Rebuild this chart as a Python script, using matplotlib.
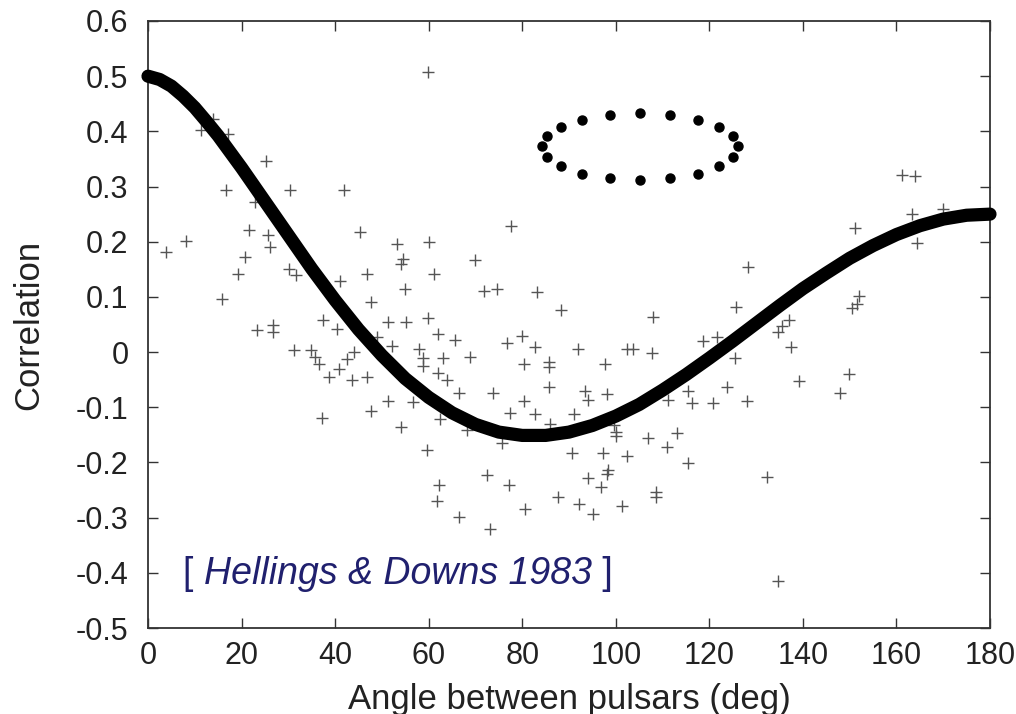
import matplotlib
matplotlib.use("Agg")
import matplotlib.pyplot as plt

# Hellings & Downs curve (denser where it bends near 0)
hd_angle = [0, 2.5, 5, 7.5, 10, 12.5, 15, 20, 25, 30, 35, 40, 45, 50, 55, 60, 65, 70,
            75, 80, 85, 90, 95, 100, 105, 110, 115, 120, 125, 130, 135, 140, 145,
            150, 155, 160, 165, 170, 175, 180]
hd_corr = [0.500, 0.494, 0.482, 0.464, 0.443, 0.418, 0.392, 0.334, 0.273, 0.212,
           0.151, 0.094, 0.041, -0.006, -0.048, -0.082, -0.110, -0.131, -0.145,
           -0.151, -0.151, -0.145, -0.133, -0.116, -0.095, -0.069, -0.041, -0.011,
           0.020, 0.052, 0.084, 0.115, 0.143, 0.170, 0.193, 0.213, 0.229, 0.241,
           0.248, 0.250]

# measured pulsar pair correlations (+ marks)
pair_angle = [
    3.8, 8.2, 11.4, 14.0, 17.0, 25.2, 16.6, 22.9, 30.4, 41.9, 21.6, 25.6, 26.0,
    20.8, 19.3, 30.1, 31.6, 41.1, 45.3, 15.9, 23.4, 26.8, 26.8, 37.4, 40.5, 31.2,
    34.8, 35.7, 36.6, 38.6, 40.8, 42.6, 44.1, 43.7, 37.1,
    53.3, 60.1, 77.5, 54.6, 54.0, 69.9, 46.9, 61.2, 54.9, 71.8, 74.7, 83.2, 47.6,
    51.2, 55.1, 59.9, 61.9, 65.6, 79.9, 76.8, 82.7, 49.0, 52.2, 57.9, 58.7, 58.7,
    63.1, 68.8, 80.4, 85.8, 85.8, 46.9, 61.9, 63.9, 85.8, 66.5, 73.8, 51.2, 56.6,
    80.4, 47.6, 77.4, 82.7, 62.4, 54.0, 68.1, 85.9, 75.7, 59.6, 72.4, 62.3, 77.2,
    87.7, 61.7, 80.6, 66.5, 73.1, 59.8,
    128.3, 88.2, 108.0, 125.8, 118.7, 121.6, 92.0, 102.5, 103.7, 107.7, 125.5,
    97.8, 93.4, 94.1, 98.1, 115.5, 111.2, 116.4, 120.8, 123.8, 128.0, 91.1, 99.6,
    100.0, 100.1, 106.9, 113.1, 110.9, 90.7, 97.2, 102.5, 115.5, 98.4, 98.1, 94.1,
    96.8, 108.7, 108.6, 92.2, 101.3, 95.2,
    161.2, 164.0, 169.9, 163.3, 151.1, 164.5, 152.1, 151.5, 150.6, 137.1, 135.5,
    134.7, 137.4, 139.2, 149.9, 147.9, 132.3, 134.7,
]
pair_corr = [
    0.181, 0.201, 0.402, 0.423, 0.396, 0.346, 0.294, 0.272, 0.294, 0.294, 0.221,
    0.213, 0.191, 0.173, 0.141, 0.150, 0.140, 0.129, 0.217, 0.096, 0.040, 0.050,
    0.037, 0.058, 0.042, 0.004, 0.003, -0.008, -0.022, -0.046, -0.030, -0.013,
    0.000, -0.051, -0.120,
    0.196, 0.200, 0.228, 0.168, 0.159, 0.167, 0.141, 0.141, 0.114, 0.111, 0.114,
    0.109, 0.090, 0.054, 0.054, 0.062, 0.033, 0.022, 0.030, 0.016, 0.010, 0.027,
    0.011, 0.005, -0.011, -0.025, -0.010, -0.008, -0.022, -0.018, -0.027, -0.045,
    -0.037, -0.050, -0.063, -0.074, -0.074, -0.088, -0.091, -0.088, -0.106,
    -0.111, -0.113, -0.122, -0.135, -0.141, -0.130, -0.164, -0.178, -0.222,
    -0.240, -0.240, -0.262, -0.270, -0.285, -0.298, -0.320, 0.507,
    0.155, 0.076, 0.064, 0.081, 0.020, 0.028, 0.005, 0.005, 0.005, -0.001,
    -0.010, -0.022, -0.071, -0.087, -0.076, -0.070, -0.087, -0.092, -0.092,
    -0.064, -0.089, -0.112, -0.132, -0.152, -0.145, -0.155, -0.147, -0.172,
    -0.182, -0.182, -0.188, -0.201, -0.213, -0.221, -0.228, -0.244, -0.253,
    -0.262, -0.276, -0.279, -0.294,
    0.321, 0.319, 0.260, 0.250, 0.224, 0.197, 0.101, 0.088, 0.079, 0.059, 0.047,
    0.037, 0.010, -0.052, -0.039, -0.075, -0.227, -0.414,
]

# dotted ring drawn on the chart
ring_x = [126.1, 125.1, 122.1, 117.6, 111.6, 105.2, 98.8, 92.8, 88.3, 85.3,
          84.2, 85.3, 88.3, 92.8, 98.8, 105.2, 111.6, 117.6, 122.1, 125.1]
ring_y = [0.373, 0.391, 0.408, 0.421, 0.430, 0.433, 0.430, 0.421, 0.408, 0.391,
          0.373, 0.353, 0.337, 0.323, 0.315, 0.312, 0.315, 0.323, 0.337, 0.353]

x_ticks = [0, 20, 40, 60, 80, 100, 120, 140, 160, 180]
y_ticks = [-0.5, -0.4, -0.3, -0.2, -0.1, 0.0, 0.1, 0.2, 0.3, 0.4, 0.5, 0.6]
y_labels = ["-0.5", "-0.4", "-0.3", "-0.2", "-0.1", "0", "0.1", "0.2", "0.3",
            "0.4", "0.5", "0.6"]

plt.rcParams["font.family"] = ["Liberation Sans", "DejaVu Sans"]
plt.rcParams["axes.unicode_minus"] = False

fig = plt.figure(figsize=(10.16, 7.14), dpi=100)
ax = fig.add_axes([148 / 1016, 1 - 628 / 714, 842 / 1016, 607 / 714])

ax.plot(pair_angle, pair_corr, "+", color="#555555", ms=8, mew=1.0, zorder=2)
ax.plot(hd_angle, hd_corr, "-", color="black", lw=9.5, solid_capstyle="round",
        solid_joinstyle="round", clip_on=False, zorder=3)
ax.plot(ring_x, ring_y, "o", color="black", ms=6.5, zorder=4)

ax.set_xlim(0, 180)
ax.set_ylim(-0.5, 0.6)
ax.set_xticks(x_ticks)
ax.set_yticks(y_ticks)
ax.set_yticklabels(y_labels)

for s in ax.spines.values():
    s.set_color("#333333")
    s.set_linewidth(1.3)
ax.tick_params(direction="in", length=7, width=1, color="#333333",
               top=True, right=True, labelsize=22, labelcolor="#222222")
ax.tick_params(axis="y", pad=14)
ax.tick_params(axis="x", pad=9)

ax.set_xlabel("Angle between pulsars (deg)", fontsize=25, color="#222222")
ax.set_ylabel("Correlation", fontsize=25, color="#222222")
ax.xaxis.set_label_coords(0.5, -0.09)
ax.yaxis.set_label_coords(-0.122, 0.5)

navy = "#20206e"
t1 = ax.text(7.5, -0.42, "[ ", color=navy, fontsize=27, va="baseline")
t2 = ax.annotate("Hellings & Downs 1983", xy=(1, 0), xycoords=t1, va="bottom",
                 ha="left", color=navy, fontsize=27, style="italic")
ax.annotate(" ]", xy=(1, 0), xycoords=t2, va="bottom", ha="left", color=navy,
            fontsize=27)

fig.savefig("out.png", dpi=100)
